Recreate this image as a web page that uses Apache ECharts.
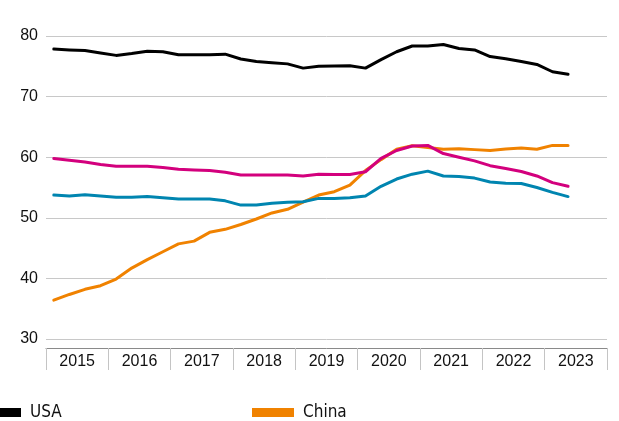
<!DOCTYPE html>
<html>
<head>
<meta charset="utf-8">
<script src="https://cdn.jsdelivr.net/npm/echarts@6/dist/echarts.min.js"></script>
<style>
  html, body { margin: 0; padding: 0; background: #fff; }
  #chart { width: 619px; height: 421px; }
</style>
</head>
<body>
<div id="chart"></div>
<script>
// Year bands on the axis; each year holds four quarterly points
const years = ['2015', '2016', '2017', '2018', '2019', '2020', '2021', '2022', '2023'];
const quarters = years.flatMap(y => ['Q1', 'Q2', 'Q3', 'Q4'].map(q => y + ' ' + q));

// Quarterly values, 2015 Q1 to 2023 Q2
const usa = [77.85, 77.7, 77.6, 77.2, 76.8, 77.1, 77.5, 77.4, 76.9, 76.9, 76.9, 77.0,
  76.2, 75.8, 75.6, 75.4, 74.7, 75.0, 75.05, 75.1, 74.7, 76.1, 77.4, 78.35,
  78.35, 78.6, 77.95, 77.7, 76.6, 76.25, 75.8, 75.3, 74.1, 73.7];
const china = [36.4, 37.35, 38.2, 38.8, 39.9, 41.7, 43.1, 44.4, 45.7, 46.15, 47.6, 48.1,
  48.9, 49.8, 50.8, 51.4, 52.6, 53.75, 54.3, 55.4, 57.8, 59.6, 61.3, 61.9,
  61.6, 61.3, 61.4, 61.25, 61.1, 61.35, 61.5, 61.3, 61.95, 61.95];
const magentaLine = [59.8, 59.5, 59.2, 58.8, 58.5, 58.5, 58.5, 58.3, 58.0, 57.9, 57.8, 57.5,
  57.05, 57.05, 57.05, 57.05, 56.9, 57.2, 57.15, 57.15, 57.6, 59.8, 61.1, 61.85,
  61.95, 60.6, 60.0, 59.4, 58.6, 58.15, 57.65, 56.9, 55.8, 55.2];
const tealLine = [53.75, 53.6, 53.8, 53.6, 53.4, 53.4, 53.5, 53.3, 53.1, 53.1, 53.1, 52.8,
  52.1, 52.1, 52.4, 52.55, 52.65, 53.2, 53.2, 53.3, 53.6, 55.2, 56.4, 57.2,
  57.7, 56.9, 56.8, 56.55, 55.9, 55.7, 55.65, 55.0, 54.2, 53.5];

const yTicks = { min: 30, max: 80, step: 10 };

const AXIS_FONT = '"Liberation Sans", Arial, sans-serif';
const LEGEND_FONT = '"DejaVu Sans Condensed", "Liberation Sans", sans-serif';
const COLORS = { usa: '#000000', china: '#f08200', magenta: '#d3007d', teal: '#0085b0' };

const chart = echarts.init(document.getElementById('chart'), null, { renderer: 'canvas' });

function lineSeries(name, data, color) {
  return {
    name: name,
    type: 'line',
    xAxisIndex: 1,
    data: data,
    symbol: 'none',
    smooth: false,
    lineStyle: { color: color, width: 3, join: 'round', cap: 'round' },
    itemStyle: { color: color },
    emphasis: { disabled: true },
    z: 3
  };
}

const legendBase = {
  orient: 'horizontal',
  top: 404,
  padding: 0,
  icon: 'rect',
  itemWidth: 42,
  itemHeight: 9,
  selectedMode: false,
  textStyle: { fontFamily: LEGEND_FONT, fontSize: 17, color: '#111', padding: [0, 0, 0, 4] }
};

chart.setOption({
  animation: false,
  backgroundColor: '#ffffff',
  grid: { left: 46, right: 12, top: 36, bottom: 82, containLabel: false },
  legend: [
    Object.assign({}, legendBase, { left: -21, data: ['USA'] }),
    Object.assign({}, legendBase, { left: 252, data: ['China'] })
  ],
  xAxis: [
    {
      type: 'category',
      data: years,
      boundaryGap: true,
      position: 'bottom',
      offset: 9,
      axisLine: { show: true, lineStyle: { color: '#8a8a8a', width: 1 } },
      axisTick: { show: true, interval: 0, length: 22, lineStyle: { color: '#c4c4c4', width: 1 } },
      axisLabel: { interval: 0, margin: 6, color: '#111', fontFamily: AXIS_FONT, fontSize: 16 },
      splitLine: { show: false }
    },
    {
      type: 'category',
      data: quarters,
      boundaryGap: true,
      show: false
    }
  ],
  yAxis: {
    type: 'value',
    min: yTicks.min,
    max: yTicks.max,
    interval: yTicks.step,
    axisLine: { show: false },
    axisTick: { show: false },
    axisLabel: { margin: 8, color: '#111', fontFamily: AXIS_FONT, fontSize: 16 },
    splitLine: { show: true, lineStyle: { color: '#c8c8c8', width: 1 } }
  },
  series: [
    lineSeries('USA', usa, COLORS.usa),
    lineSeries('China', china, COLORS.china),
    lineSeries('Magenta line', magentaLine, COLORS.magenta),
    lineSeries('Teal line', tealLine, COLORS.teal)
  ]
});
</script>
</body>
</html>
